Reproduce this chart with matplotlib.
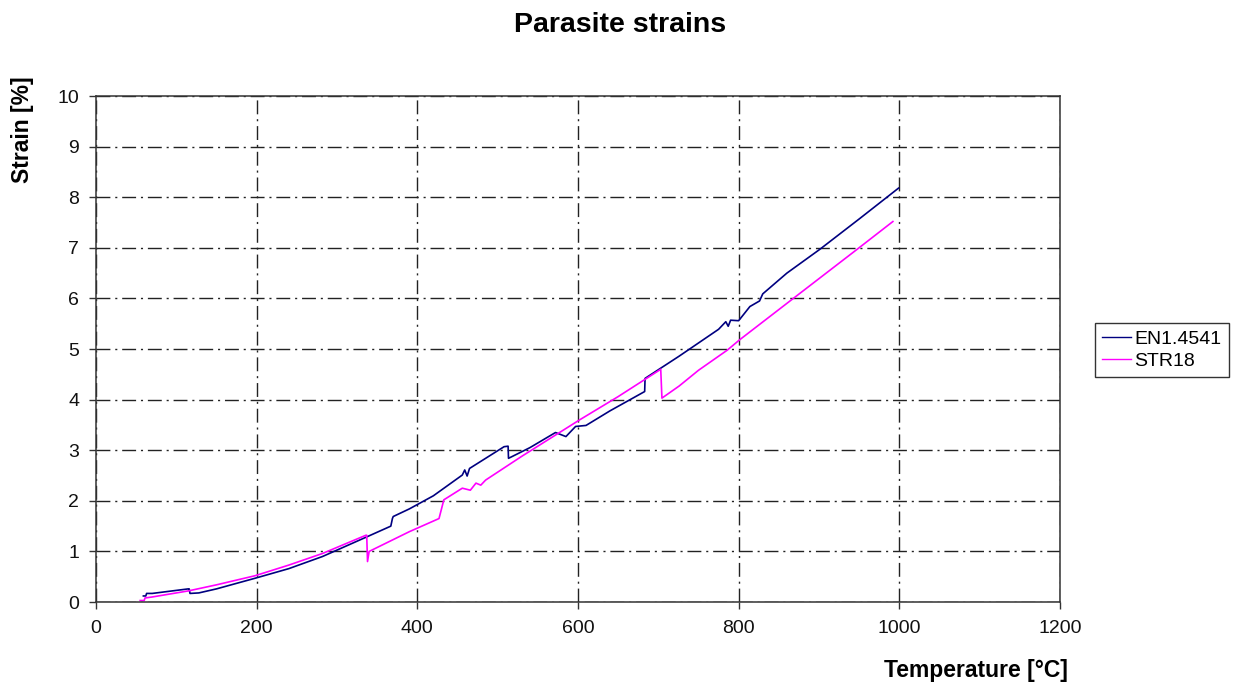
import matplotlib
matplotlib.use("Agg")
import matplotlib.pyplot as plt

# Thermal strain readings, temperature in degC, strain in %
temp_en = [59, 62, 63, 70, 115, 116, 117, 128, 150, 198, 240, 282, 336, 367,
           369, 370, 390, 420, 456, 459, 462, 465, 508, 513, 513.5, 540, 572,
           585, 597, 610, 640, 683, 683.5, 726, 775, 784, 787, 790, 800, 814,
           826, 830, 860, 901, 950, 999]
strain_en = [0.12, 0.12, 0.17, 0.17, 0.26, 0.26, 0.17, 0.18, 0.26, 0.47, 0.66,
             0.90, 1.28, 1.50, 1.65, 1.69, 1.84, 2.10, 2.51, 2.61, 2.49, 2.64,
             3.07, 3.08, 2.84, 3.05, 3.35, 3.27, 3.47, 3.49, 3.78, 4.16, 4.42,
             4.86, 5.39, 5.54, 5.45, 5.57, 5.56, 5.84, 5.95, 6.09, 6.50, 6.97,
             7.57, 8.18]

temp_str = [55, 60, 61, 70, 115, 150, 198, 240, 282, 336, 337, 338, 340, 390,
            427, 433, 456, 466, 473, 479, 485, 530, 572, 602, 650, 703, 704.5,
            726, 750, 786, 801, 868, 949, 992]
strain_str = [0.03, 0.03, 0.08, 0.10, 0.22, 0.34, 0.52, 0.73, 0.96, 1.32, 1.32,
              0.80, 1.00, 1.39, 1.65, 2.02, 2.25, 2.21, 2.35, 2.31, 2.41, 2.88,
              3.30, 3.60, 4.06, 4.60, 4.03, 4.27, 4.58, 4.98, 5.18, 6.00, 6.99,
              7.52]

x_ticks = [0, 200, 400, 600, 800, 1000, 1200]
y_ticks = list(range(0, 11))

plt.rcParams["font.family"] = ["Liberation Sans", "DejaVu Sans"]

fig = plt.figure(figsize=(12.37, 6.86), dpi=100)
ax = fig.add_axes([0.0776, 0.1224, 0.7793, 0.7376])

ax.plot(temp_en, strain_en, color="#000080", lw=1.2, label="EN1.4541")
ax.plot(temp_str, strain_str, color="#FF00FF", lw=1.2, label="STR18")

ax.set_xlim(0, 1200)
ax.set_ylim(0, 10)
ax.set_xticks(x_ticks)
ax.set_yticks(y_ticks)
ax.tick_params(labelsize=14, direction="out", length=5, width=1,
               color="#333333", labelcolor="#111111")
ax.tick_params(axis="x", pad=8)
ax.tick_params(axis="y", pad=7)

# dash-dot grid inside a plain frame
ax.grid(True, color="#222222", lw=1.0, linestyle=(0, (10, 3.5, 1.5, 3.5)))
ax.set_axisbelow(True)
for side in ax.spines:
    ax.spines[side].set_color("#333333")
    ax.spines[side].set_linewidth(1.1)

fig.text(0.501, 0.964, "Parasite strains", ha="center", va="center",
         fontsize=20.5, fontweight="bold")
fig.text(0.863, 0.022, "Temperature [\u00b0C]", ha="right", va="center",
         fontsize=16.5, fontweight="bold")
fig.text(0.0185, 0.888, "Strain [%]", ha="center", va="top", rotation=90,
         fontsize=16.5, fontweight="bold")

leg = fig.legend(loc="upper left", bbox_to_anchor=(0.885, 0.529),
                 fontsize=14, frameon=True, fancybox=False, handlelength=1.5,
                 borderaxespad=0, borderpad=0.35, labelspacing=0.25,
                 handletextpad=0.2)
leg.get_frame().set_edgecolor("black")
leg.get_frame().set_linewidth(1.0)
for line in leg.get_lines():
    line.set_linewidth(1.0)

plt.savefig("out.png", dpi=100)
